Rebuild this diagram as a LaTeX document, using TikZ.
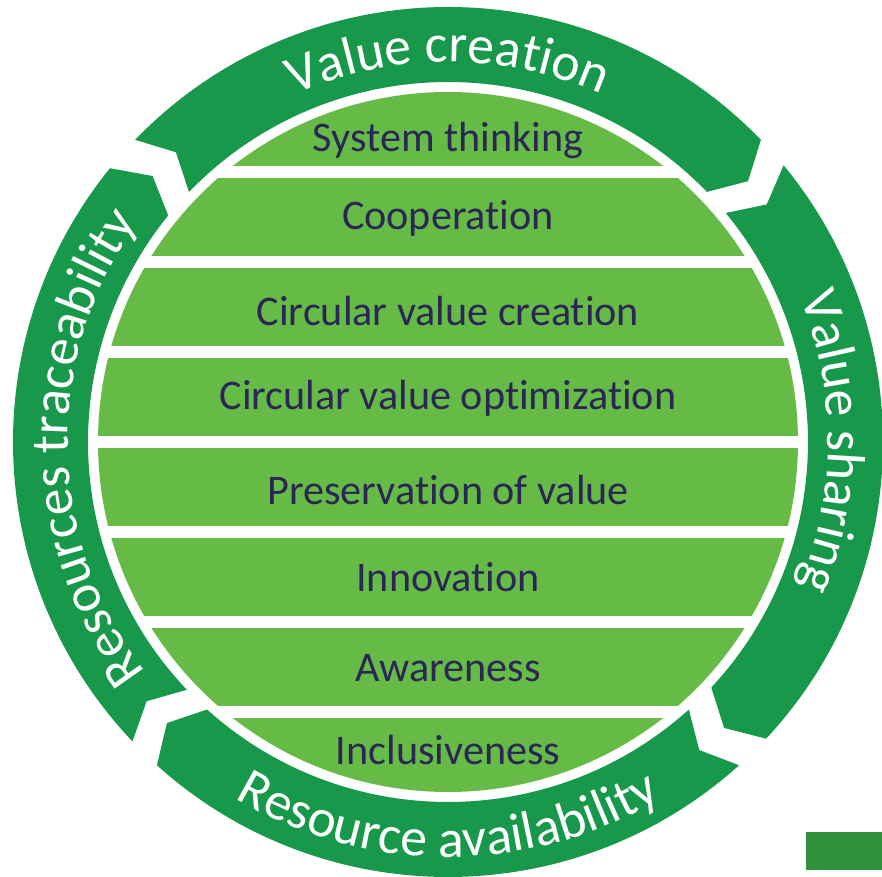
\documentclass[tikz,border=0pt]{standalone}
\usepackage{fontspec}
\setmainfont{Carlito}[Ligatures=NoCommon]
\usepackage{tikz}
\usetikzlibrary{decorations.text}

\definecolor{ringgreen}{HTML}{17984A}
\definecolor{stripgreen}{HTML}{66BB46}
\definecolor{labelnavy}{HTML}{2B2656}
\definecolor{boxgreen}{HTML}{30903C}

\tikzset{
    ringpart/.style={fill=ringgreen},
    stripfill/.style={fill=stripgreen},
    gapfill/.style={fill=white},
    lbl/.style={text=labelnavy, font=\fontsize{12}{14}\selectfont, inner sep=0pt},
}
\newcommand{\ringfont}{\fontsize{15.3}{18}\selectfont\color{white}}

\begin{document}
\begin{tikzpicture}

    % frame, as large as the reference
    \useasboundingbox (-4.48,-4.35) rectangle (4.34,4.42);

    % NOTE: the disc of strips, radius 3.5, white gaps every 0.9
    \fill[stripfill] (0,0) circle (3.5);
    \foreach \k in {-3,...,3}{
        \fill[gapfill] (-3.6,{0.9*\k-0.06}) rectangle (3.6,{0.9*\k+0.06});
    }

    % labels of the strips
    \node[lbl] (sys)    at (0, 3.02) {System thinking};
    \node[lbl] (coop)   at (0, 2.24) {Cooperation};
    \node[lbl] (cvc)    at (0, 1.31) {Circular value creation};
    \node[lbl] (cvo)    at (0, 0.44) {Circular value optimization};
    \node[lbl] (pres)   at (0,-0.48) {Preservation of value};
    \node[lbl] (innov)  at (0,-1.35) {Innovation};
    \node[lbl] (aware)  at (0,-2.26) {Awareness};
    \node[lbl] (incl)   at (0,-3.08) {Inclusiveness};

    %%%%%%%%%%%%%%%%%%%%%%%%%%%%%%%%%%%%%%%%%%%%%%%%%%%%%%%%%%%%%%
    % the ring: four chevrons, clockwise, tail angle / head angle
    \foreach \a/\b in {136/44, 39.5/-43, -48/-132, 223.5/141}{
        \fill[ringpart] (\a:4.35) arc[start angle=\a, end angle=\b, radius=4.35]
            -- ({\b-3}:3.975) -- (\b:3.60)
            arc[start angle=\b, end angle=\a, radius=3.60]
            -- ({\a-2.8}:3.975) -- cycle;
    }

    % texts along the ring
    \path[decorate, decoration={text along path, text align=center,
        text={|\ringfont|Value creation}}]
        (135:3.80) arc[start angle=135, end angle=45, radius=3.80];
    \path[decorate, decoration={text along path, text align=center,
        text={|\ringfont|Value sharing}}]
        (45:3.80) arc[start angle=45, end angle=-45, radius=3.80];
    \path[decorate, decoration={text along path, text align=center,
        text={|\ringfont|Resource availability}}]
        (-135:4.15) arc[start angle=-135, end angle=-45, radius=4.15];
    \path[decorate, decoration={text along path, text align=center,
        text={|\ringfont|Resources traceability}}]
        (226:3.80) arc[start angle=226, end angle=136, radius=3.80];

    % small box in the corner
    \fill[boxgreen] (3.58,-3.90) rectangle (4.34,-4.28);

\end{tikzpicture}
\end{document}
